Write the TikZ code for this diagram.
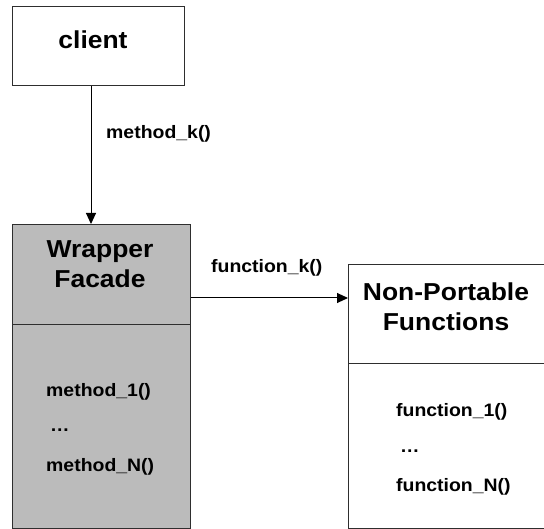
\documentclass[tikz,border=0pt]{standalone}
\usepackage{fontspec}
\setmainfont{Liberation Sans}[FakeStretch=1.08]
\usetikzlibrary{arrows.meta}
\definecolor{edge}{HTML}{2E2E2E}
\definecolor{facade}{HTML}{BBBBBB}
\tikzset{
  box/.style={draw=edge, line width=1.4pt, inner sep=0pt, anchor=north west},
  title/.style={font=\bfseries\fontsize{24.5}{30}\selectfont, inner sep=0pt},
  label/.style={font=\bfseries\fontsize{18}{21}\selectfont, inner sep=0pt},
  arr/.style={draw=black, line width=1pt, -{Triangle[length=11pt,width=10pt]}}
}
\begin{document}
\begin{tikzpicture}[x=1pt, y=-1pt]
  \useasboundingbox (0,0) rectangle (544,529);
  \begin{scope}
    \clip (0,0) rectangle (544,529);
    % client box
    \node[box, fill=white, minimum width=172pt, minimum height=79pt] (client) at (12,6) {};
    % wrapper facade: header and member list
    \node[box, fill=facade, minimum width=178pt, minimum height=100pt] (wfhead) at (12,224) {};
    \node[box, fill=facade, minimum width=178pt, minimum height=204pt] (wfbody) at (12,324) {};
    % non-portable functions: header and member list
    \node[box, fill=white, minimum width=200pt, minimum height=99pt] (nphead) at (348,264) {};
    \node[box, fill=white, minimum width=200pt, minimum height=165pt] (npbody) at (348,363) {};
  \end{scope}

  % titles
  \node[title] (tclient) at (93,40) {client};
  \node[title, align=center] (twf) at (100,264) {Wrapper\\Facade};
  \node[title, align=center] (tnp) at (446,307) {Non-Portable\\Functions};

  % member lists
  \node[label, anchor=west] (m1) at (46,392) {method\_1()};
  \node[label, anchor=west] (md) at (50,430) {\ldots};
  \node[label, anchor=west] (mn) at (46,467) {method\_N()};
  \node[label, anchor=west] (f1) at (396,412) {function\_1()};
  \node[label, anchor=west] (fd) at (400,451) {\ldots};
  \node[label, anchor=west] (fn) at (396,487) {function\_N()};

  % calls
  \coordinate (mk) at (91,0);
  \coordinate (fk) at (0,298);
  \draw[arr] (client.south -| mk) -- (wfhead.north -| mk);
  \draw[arr] (wfhead.east |- fk) -- (nphead.west |- fk);
  \node[label, anchor=west] (lmk) at (106,134) {method\_k()};
  \node[label, anchor=west] (lfk) at (211,268) {function\_k()};
\end{tikzpicture}
\end{document}
